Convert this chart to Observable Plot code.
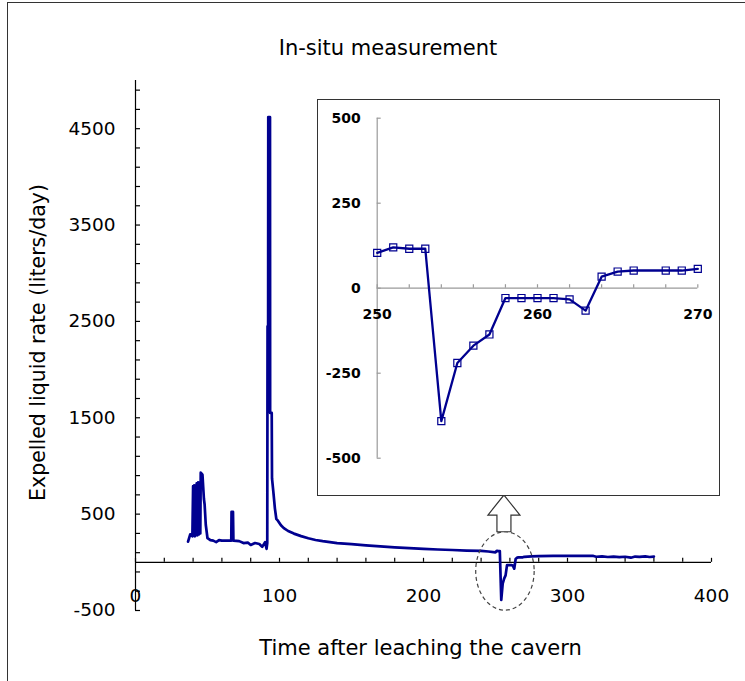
<!DOCTYPE html>
<html><head><meta charset="utf-8">
<script src="https://cdn.jsdelivr.net/npm/d3@7"></script>
<script src="https://cdn.jsdelivr.net/npm/@observablehq/plot@0.6"></script>
<style>
html,body{margin:0;padding:0;background:#fff;overflow:hidden;}
#wrap{position:relative;width:745px;height:681px;overflow:hidden;}
#main{position:absolute;left:0;top:0;}
#border{position:absolute;left:7px;top:2px;width:800px;height:800px;border-left:1.5px solid #333;border-top:1.5px solid #333;pointer-events:none;}
#inset{position:absolute;left:317px;top:99px;border:1px solid #333;background:#fff;line-height:0;}
</style></head><body>
<div id="wrap"><div id="main"></div><div id="inset"></div><div id="border"></div></div>
<script>
// ---- data ----
const chartTitle = "In-situ measurement";
const xTitle = "Time after leaching the cavern";
const yTitle = "Expelled liquid rate (liters/day)";

const earlyDays = [36.5, 38, 39.5, 40, 40.4, 40.8, 41.2, 41.6, 42, 42.5, 43, 43.5, 44, 44.5, 45, 45.3, 46.5, 47.5, 48, 48.8, 50, 52, 54, 56, 58, 60, 64, 66.5, 66.7, 67.7, 68, 72, 75, 78, 80, 83, 86, 88, 90, 91, 91.5, 91.7, 92.1, 92.2, 93.4, 93.5, 94.6, 94.8, 95.8, 96.8, 97.8, 99, 101, 103, 106, 110, 115, 120, 125, 130, 140, 150, 160, 170, 180, 190, 200, 210, 220, 230, 240, 245];
const earlyRates = [215, 290, 270, 790, 280, 800, 270, 800, 280, 820, 280, 830, 290, 830, 300, 930, 910, 660, 600, 390, 250, 230, 225, 210, 230, 225, 225, 225, 525, 525, 225, 220, 200, 205, 180, 200, 190, 160, 210, 140, 200, 2450, 2450, 4620, 4620, 1550, 1550, 870, 720, 560, 450, 430, 385, 355, 325, 298, 272, 250, 232, 220, 200, 188, 175, 165, 155, 148, 140, 133, 128, 122, 118, 112];

const insetDays = [250, 251, 252, 253, 254, 255, 256, 257, 258, 259, 260, 261, 262, 263, 264, 265, 266, 268, 269, 270];
const insetRates = [104, 120, 116, 116, -391, -220, -169, -136, -29, -29, -29, -29, -33, -66, 34, 49, 52, 52, 52, 57];

const tailDays = [275, 280, 290, 300, 310, 318, 320, 324, 328, 332, 336, 340, 344, 347, 350, 354, 357, 360];
const tailRates = [62, 65, 66, 66, 66, 66, 58, 62, 55, 60, 54, 58, 48, 60, 56, 62, 55, 60];

const xMajorTicks = [0, 100, 200, 300, 400];
const xMinorTicks = d3.range(0, 401, 20);
const yMajorTicks = [-500, 500, 1500, 2500, 3500, 4500];
const yMinorTicks = d3.range(-500, 5000, 200);

const insetXLabels = [250, 260, 270];
const insetXMinor = d3.range(250, 271, 2);
const insetYTicks = [-500, -250, 0, 250, 500];

// callout (ellipse around the dip, arrow to the zoom box), in data units
const dipCallout = {day: 256.9, rate: -95, halfDays: 20.3, halfRate: 407, arrowTopRate: 693};

// ---- build ----
const NAVY = "#000090";
const GREY = "#9a9a9a";
const FONT = "DejaVu Sans";
const plain = d => String(d);

const allDays = [...earlyDays, ...insetDays, ...tailDays];
const allRates = [...earlyRates, ...insetRates, ...tailRates];
const mainTable = allDays.map((d, i) => ({day: d, rate: allRates[i]}));
const insetTable = insetDays.map((d, i) => ({day: d, rate: insetRates[i]}));

const W = 745, H = 681, mL = 135, mR = 34, mT = 80, mB = 71;
const yPx = d3.scaleLinear([-500, 5000], [H - mB, mT]);
const dyZero = yPx(0) - (H - mB);

const main = Plot.plot({
  width: W, height: H, marginLeft: mL, marginRight: mR, marginTop: mT, marginBottom: mB,
  style: {fontFamily: FONT, background: "transparent", color: "#000"},
  x: {domain: [0, 400]},
  y: {domain: [-500, 5000]},
  marks: [
    Plot.ruleY([0], {stroke: "#000", strokeWidth: 1.2}),
    Plot.ruleX([0], {stroke: "#000", strokeWidth: 1.2}),
    Plot.axisX(xMinorTicks, {anchor: "bottom", tickSize: -4, tickFormat: () => "", dy: dyZero, label: null, strokeWidth: 1.2}),
    Plot.axisX(xMajorTicks, {anchor: "bottom", tickSize: 0, tickPadding: 26.5, dy: dyZero, label: null, fontSize: 18.5, tickFormat: plain}),
    Plot.axisY(yMinorTicks, {anchor: "left", tickSize: -5, tickFormat: () => "", label: null, strokeWidth: 1.2}),
    Plot.axisY(yMajorTicks, {anchor: "left", tickSize: 0, tickPadding: 20, label: null, fontSize: 18.5, tickFormat: plain}),
    Plot.line(mainTable, {x: "day", y: "rate", stroke: NAVY, strokeWidth: 2.7}),
    (index, {x, y}) => {
      const g = d3.create("svg:g");
      const cx = x(dipCallout.day), cy = y(dipCallout.rate);
      const rx = x(dipCallout.day + dipCallout.halfDays) - cx;
      const ry = cy - y(dipCallout.rate + dipCallout.halfRate);
      g.append("ellipse").attr("cx", cx).attr("cy", cy).attr("rx", rx).attr("ry", ry)
        .attr("fill", "none").attr("stroke", "#444").attr("stroke-width", 1.2).attr("stroke-dasharray", "4,3");
      const yb = cy - ry, yt = y(dipCallout.arrowTopRate);
      const hw = 16, sw = 7, hh = 20, ax = cx - 1;
      g.append("path")
        .attr("d", `M${ax - sw},${yb}V${yt + hh}H${ax - hw}L${ax},${yt}L${ax + hw},${yt + hh}H${ax + sw}V${yb}Z`)
        .attr("fill", "#fff").attr("stroke", "#333").attr("stroke-width", 1.2);
      return g.node();
    },
    Plot.text([chartTitle], {text: d => d, frameAnchor: "top", dx: -35.5, dy: -40, fontSize: 21}),
    Plot.text([xTitle], {text: d => d, frameAnchor: "bottom", dx: -3, dy: 44, fontSize: 21}),
    Plot.text([yTitle], {text: d => d, frameAnchor: "left", textAnchor: "middle", rotate: -90, dx: -97, dy: -3, fontSize: 20.5})
  ]
});
document.getElementById("main").append(main);

const iW = 401, iH = 395, iL = 58.7, iR = 21.7, iT = 17.7, iB = 37.3;
const iyPx = d3.scaleLinear([-500, 500], [iH - iB, iT]);
const iDyZero = iyPx(0) - (iH - iB);

const inset = Plot.plot({
  width: iW, height: iH, marginLeft: iL, marginRight: iR, marginTop: iT, marginBottom: iB,
  style: {fontFamily: FONT, background: "#fff", color: "#000"},
  x: {domain: [250, 270]},
  y: {domain: [-500, 500]},
  marks: [
    Plot.ruleX([250], {stroke: GREY, strokeWidth: 1.2}),
    Plot.ruleY([0], {stroke: GREY, strokeWidth: 1.2}),
    Plot.axisY(insetYTicks, {anchor: "left", tickSize: -4, tickFormat: () => "", label: null, stroke: GREY, strokeWidth: 1.2}),
    Plot.axisY(insetYTicks, {anchor: "left", tickSize: 0, tickPadding: 16.5, label: null, fontSize: 14, fontWeight: "bold", tickFormat: plain}),
    Plot.axisX(insetXMinor, {anchor: "bottom", tickSize: -3.5, tickFormat: () => "", dy: iDyZero, label: null, stroke: GREY, strokeWidth: 1.2}),
    Plot.axisX(insetXLabels, {anchor: "bottom", tickSize: 0, tickPadding: 20.5, dy: iDyZero, label: null, fontSize: 14, fontWeight: "bold", tickFormat: plain}),
    Plot.line(insetTable, {x: "day", y: "rate", stroke: NAVY, strokeWidth: 2.3}),
    Plot.dot(insetTable, {x: "day", y: "rate", symbol: "square", r: 4, fill: "none", stroke: NAVY, strokeWidth: 1.2})
  ]
});
document.getElementById("inset").append(inset);
</script>
</body></html>
